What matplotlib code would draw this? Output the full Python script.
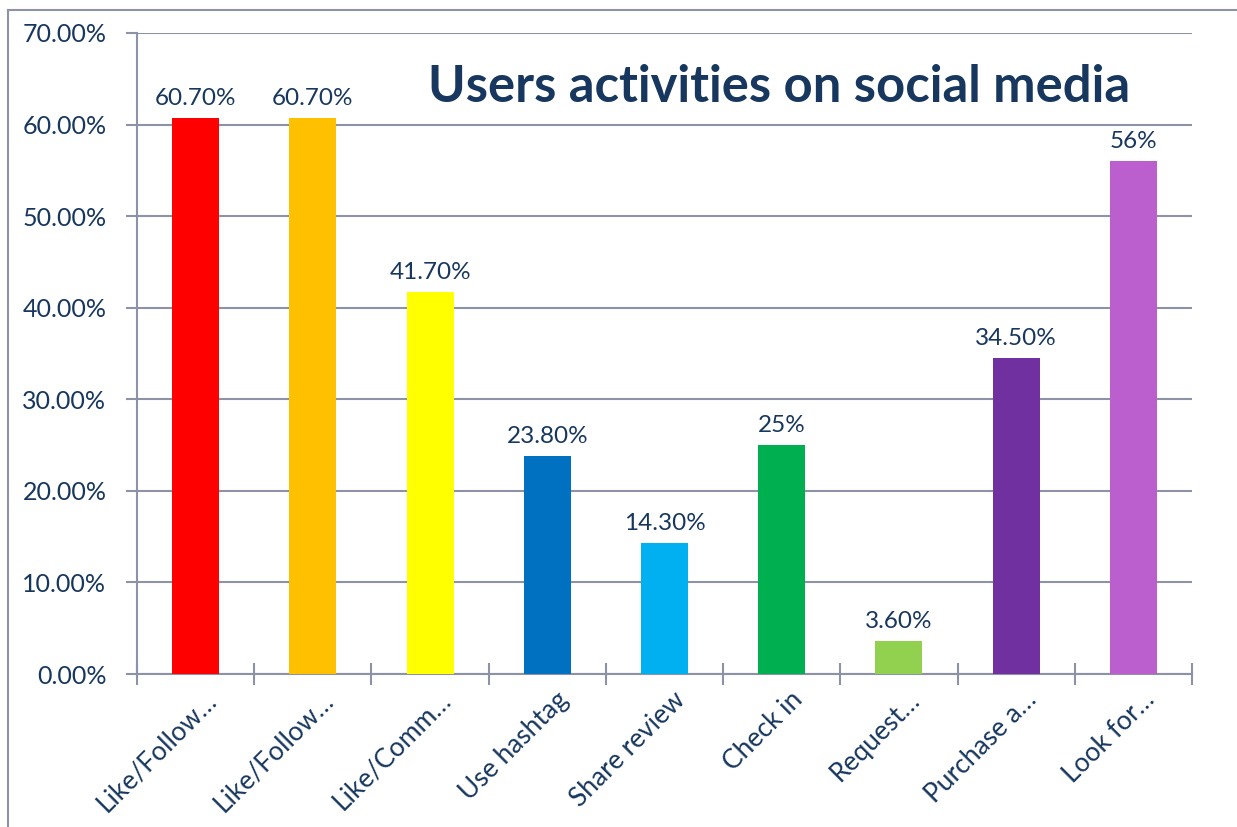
import numpy as np
import matplotlib
matplotlib.use("Agg")
import matplotlib.pyplot as plt
from matplotlib.lines import Line2D
from matplotlib.ticker import FixedLocator, FuncFormatter

categories = ["Like/Follow…", "Like/Follow…", "Like/Comm…", "Use hashtag",
              "Share review", "Check in", "Request…", "Purchase a…", "Look for…"]
values = [60.7, 60.7, 41.7, 23.8, 14.3, 25.0, 3.6, 34.5, 56.0]
value_labels = ["60.70%", "60.70%", "41.70%", "23.80%", "14.30%",
                "25%", "3.60%", "34.50%", "56%"]
colors = ["#FF0000", "#FFC000", "#FFFF00", "#0070C0", "#00B0F0",
          "#00B050", "#92D050", "#7030A0", "#BB5FCE"]

navy = "#17375E"
grid = "#8C93A6"
plt.rcParams['font.family'] = ['Lato', 'DejaVu Sans']

fig = plt.figure(figsize=(12.37, 8.27), dpi=100)
ax = fig.add_axes([137 / 1237, 1 - 674 / 827, (1192 - 137) / 1237, (674 - 33) / 827])

x = np.arange(len(values))
ax.bar(x, values, width=0.4, color=colors, zorder=3)
for xi, v, lab in zip(x, values, value_labels):
    ax.annotate(lab, (xi, v), xytext=(0, 9), textcoords="offset pixels",
                ha="center", va="bottom", fontsize=17.5, color=navy)

ax.set_xlim(-0.5, len(values) - 0.5)
ax.set_ylim(0, 70)
ax.set_yticks(np.arange(0, 71, 10))
ax.yaxis.set_major_formatter(FuncFormatter(lambda v, p: f"{v:.2f}%"))
ax.tick_params(axis="y", length=8, width=1.5, color=grid, labelsize=18,
               labelcolor=navy, pad=14)
ax.grid(axis="y", color=grid, linewidth=1.5, zorder=0)

# category ticks: boundaries cross the axis, centers point inward
ax.xaxis.set_major_locator(FixedLocator(np.arange(-0.5, len(values), 1.0)))
ax.xaxis.set_minor_locator(FixedLocator(x))
ax.tick_params(axis="x", which="major", direction="inout", length=16, width=1.5,
               color=grid, labelbottom=False)
ax.tick_params(axis="x", which="minor", direction="in", length=7, width=1.5,
               color=grid, labelbottom=False)

# rotated category labels, right end just below/right of each bar centre
for xi, cat in zip(x, categories):
    ax.annotate(cat, (xi, 0), xytext=(17, -22), textcoords="offset pixels",
                rotation=45, rotation_mode="anchor", ha="right", va="center",
                fontsize=19, color=navy, annotation_clip=False)

for s in ["top", "right"]:
    ax.spines[s].set_visible(False)
for s in ["left", "bottom"]:
    ax.spines[s].set_color(grid)
    ax.spines[s].set_linewidth(1.5)

fig.text(779 / 1237, 1 - 87 / 827, "Users activities on social media",
         ha="center", va="center", fontsize=36.5, fontweight="bold", color=navy)

# outer frame
fig.add_artist(Line2D([8 / 1237, 1], [1 - 10 / 827, 1 - 10 / 827],
                      transform=fig.transFigure, color=grid, linewidth=1.5))
fig.add_artist(Line2D([8 / 1237, 8 / 1237], [0, 1 - 10 / 827],
                      transform=fig.transFigure, color=grid, linewidth=1.5))

fig.savefig("out.png", dpi=100)
